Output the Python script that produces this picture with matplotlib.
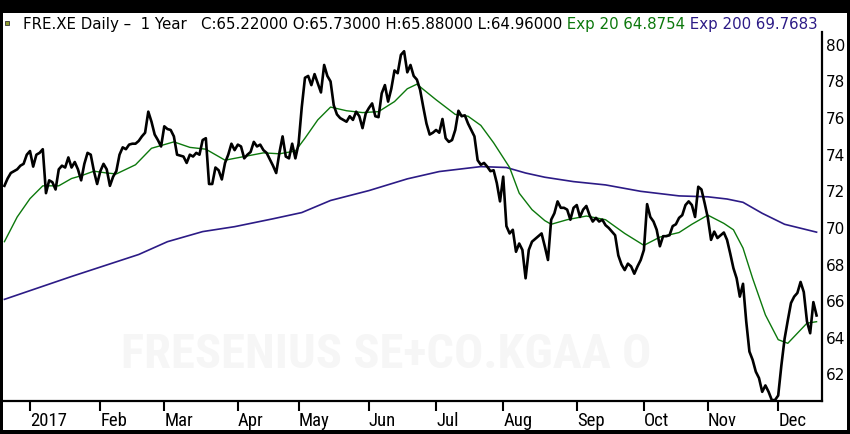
import matplotlib
matplotlib.use("Agg")
import matplotlib.pyplot as plt
from matplotlib import font_manager
from matplotlib.patches import Rectangle

# daily closes (trading-day index 0..254)
close = [
    72.3, 72.7, 73.0, 73.1, 73.2, 73.4, 73.5, 74.0, 74.2, 73.35,
    74.0, 74.1, 74.3, 71.9, 72.6, 72.5, 72.1, 73.2, 73.4, 73.3,
    73.85, 73.3, 73.6, 73.2, 72.6, 73.5, 74.1, 74.0, 73.1, 72.4,
    73.1, 73.5, 73.2, 72.3, 72.8, 73.1, 74.0, 74.4, 74.3, 74.55,
    74.6, 74.6, 74.75, 75.0, 75.2, 76.35, 75.8, 75.1, 74.8, 74.45,
    75.55, 75.4, 75.35, 75.0, 74.0, 73.95, 73.9, 73.55, 74.0, 73.9,
    74.1, 74.0, 74.8, 74.9, 72.4, 72.4, 73.3, 73.15, 72.65, 73.55,
    74.0, 74.6, 74.25, 74.55, 74.45, 73.8, 74.0, 74.15, 74.7, 74.45,
    74.55, 74.25, 74.1, 73.75, 73.4, 73.0, 74.1, 75.0, 73.9, 73.8,
    74.6, 73.8, 74.6, 76.6, 78.2, 78.3, 77.8, 78.4, 77.9, 77.4,
    78.9, 78.3, 78.0, 76.7, 76.2, 76.0, 75.9, 75.8, 76.1, 75.9,
    76.35, 76.1, 75.45, 76.25, 76.55, 76.8, 76.1, 76.05, 77.35, 77.8,
    76.9, 77.6, 78.6, 78.45, 79.45, 79.65, 78.5, 78.9, 78.3, 78.1,
    77.55, 76.6, 75.7, 75.1, 75.2, 75.35, 75.2, 75.95, 74.9, 74.7,
    74.8, 75.35, 76.4, 76.1, 76.15, 75.7, 75.35, 75.0, 73.7, 73.45,
    73.55, 73.35, 73.1, 73.15, 72.45, 71.45, 72.8, 70.1, 69.7, 69.9,
    68.7, 69.15, 68.8, 67.25, 68.8, 69.25, 69.4, 69.55, 69.7, 69.0,
    68.25, 70.45, 70.8, 71.45, 71.1, 71.1, 71.0, 70.45, 71.1, 71.25,
    70.6, 71.0, 71.2, 70.7, 70.35, 70.55, 70.35, 70.45, 70.15, 70.0,
    69.8, 69.6, 68.5, 68.0, 67.7, 68.05, 67.9, 67.5, 67.9, 68.25,
    68.8, 71.3, 70.6, 70.35, 69.9, 69.0, 69.55, 69.55, 69.6, 70.1,
    70.2, 70.55, 70.7, 71.25, 71.45, 71.25, 70.6, 72.25, 72.1, 71.35,
    70.55, 69.35, 69.8, 69.45, 69.6, 69.75, 69.35, 68.6, 67.8, 67.25,
    66.25, 66.95, 64.9, 63.25, 62.8, 62.15, 61.8, 61.05, 61.4, 61.05,
    60.6, 60.6, 60.85, 62.5, 63.95, 64.95, 65.9, 66.25, 66.45, 67.05,
    66.5, 64.9, 64.25, 65.95, 65.22,
]
days = list(range(len(close)))

# exponential averages, sampled from the chart
ema20_day = [0, 4, 8, 12, 17, 21, 24, 28, 32, 35, 38, 41, 46, 53, 58, 63, 69, 75,
             81, 86, 91, 94, 98, 102, 107, 112, 117, 122, 126, 129, 135, 141, 145,
             149, 153, 158, 161, 165, 169, 171, 176, 182, 188, 194, 200, 205, 211,
             215, 220, 225, 228, 231, 234, 238, 242, 245, 248, 251, 254]
ema20_val = [69.25, 70.6, 71.6, 72.3, 72.3, 72.7, 72.85, 73.1, 73.0, 72.95, 73.2,
             73.45, 74.35, 74.7, 74.4, 74.3, 73.7, 73.9, 74.1, 74.05, 74.2, 74.9,
             75.9, 76.6, 76.4, 76.3, 76.35, 76.9, 77.6, 77.85, 77.0, 76.2, 76.1,
             75.6, 74.65, 73.3, 71.9, 71.0, 70.4, 70.2, 70.45, 70.65, 70.45, 69.7,
             69.05, 69.5, 69.75, 70.2, 70.7, 70.25, 69.9, 68.9, 67.25, 65.25, 63.9,
             63.7, 64.25, 64.8, 64.88]

ema200_day = [0, 21, 42, 51, 62, 72, 84, 93, 102, 114, 126, 136, 149, 157, 163,
              169, 178, 188, 199, 211, 220, 226, 231, 237, 244, 254]
ema200_val = [66.1, 67.35, 68.55, 69.25, 69.8, 70.07, 70.5, 70.84, 71.5, 72.04,
              72.68, 73.08, 73.35, 73.3, 73.0, 72.77, 72.53, 72.35, 72.0, 71.75,
              71.7, 71.58, 71.4, 70.8, 70.2, 69.77]

month_day = [8, 30, 50, 73, 92, 114, 135, 156, 179, 200, 220, 242]
month_lbl = ["2017", "Feb", "Mar", "Apr", "May", "Jun", "Jul", "Aug", "Sep", "Oct", "Nov", "Dec"]
price_ticks = [62, 64, 66, 68, 70, 72, 74, 76, 78, 80]

# pick a narrow face if one is installed
installed = {f.name for f in font_manager.fontManager.ttflist}
narrow = "DejaVu Sans"
for name in ["Liberation Sans Narrow", "DejaVu Sans Condensed", "Roboto Condensed",
             "Liberation Sans"]:
    if name in installed:
        narrow = name
        break

W, H = 850, 434
fig = plt.figure(figsize=(W / 100, H / 100), dpi=100, facecolor="black")
# white panel inside the black frame
fig.patches.append(Rectangle((3 / W, 4 / H), 844 / W, 417 / H, transform=fig.transFigure,
                             facecolor="white", edgecolor="none", zorder=-5))

ax = fig.add_axes([3 / W, 33 / H, 819 / W, 369 / H])
ax.set_facecolor("white")

ax.text(0.468, 0.125, "FRESENIUS SE+CO.KGAA O", transform=ax.transAxes,
        ha="center", va="center", fontsize=35, fontweight="bold", color="#f6f6f6",
        family=narrow, zorder=0)

ax.plot(ema200_day, ema200_val, color="#2c1b86", lw=1.2, zorder=2)
ax.plot(ema20_day, ema20_val, color="#0c780c", lw=1.0, zorder=3)
ax.plot(days, close, color="black", lw=1.9, zorder=4)

ax.set_xlim(-0.44, 255.7)
ax.set_ylim(60.55, 80.7)

for s in ["left", "top"]:
    ax.spines[s].set_visible(False)
ax.spines["bottom"].set_linewidth(1.6)
ax.spines["right"].set_linewidth(1.6)

ax.yaxis.tick_right()
ax.set_yticks(price_ticks)
ax.tick_params(axis="y", length=0, pad=3, labelsize=11)

ax.set_xticks(month_day)
ax.set_xticklabels(month_lbl, ha="left", family=narrow)
ax.tick_params(axis="x", direction="out", length=7, width=1.5, pad=1, labelsize=13.5)

# header line
fig.patches.append(Rectangle((5 / W, 1 - 25 / H), 4 / W, 4 / H, transform=fig.transFigure,
                             facecolor="#8d9b2b", edgecolor="#333333", lw=0.6, zorder=5))
t1 = fig.text(23 / W, 1 - 24 / H,
              "FRE.XE Daily \u2013  1 Year   C:65.22000 O:65.73000 H:65.88000 L:64.96000",
              va="center", ha="left", fontsize=10.8, color="black")
t2 = ax.annotate(" Exp 20 64.8754", xy=(1, 0), xycoords=t1, va="bottom", ha="left",
                 fontsize=10.8, color="#0c780c", annotation_clip=False)
ax.annotate(" Exp 200 69.7683", xy=(1, 0), xycoords=t2, va="bottom", ha="left",
            fontsize=10.8, color="#2c1b86", annotation_clip=False)

fig.savefig("out.png", dpi=100, facecolor=fig.get_facecolor())
